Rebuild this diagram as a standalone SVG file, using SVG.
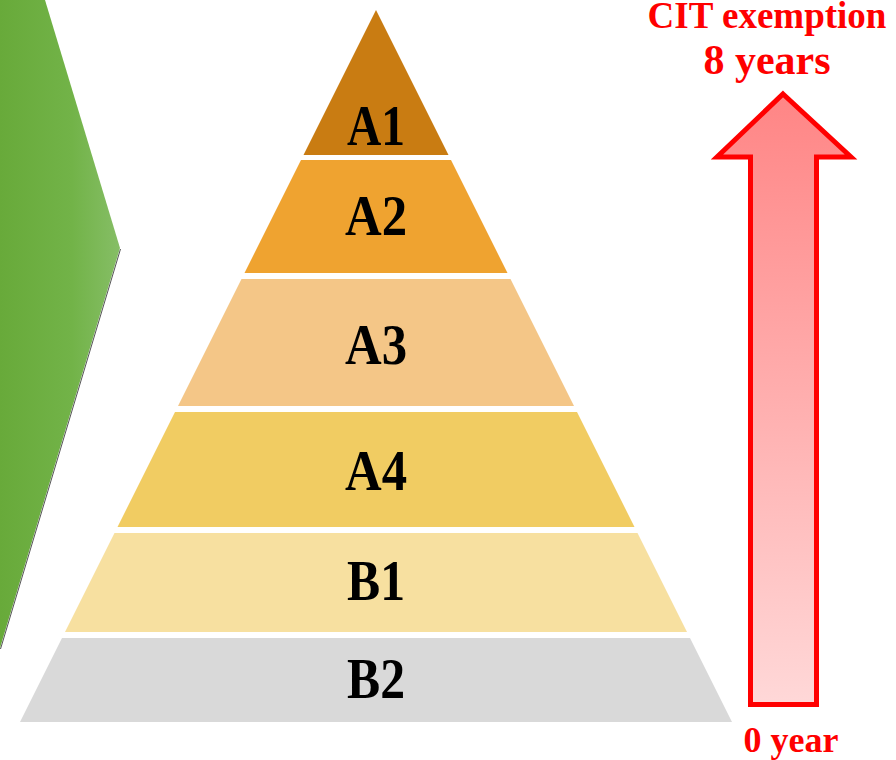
<svg xmlns="http://www.w3.org/2000/svg" width="896" height="760" viewBox="0 0 896 760">
<defs>
<linearGradient id="gGreen" x1="0" y1="0" x2="120" y2="0" gradientUnits="userSpaceOnUse">
<stop offset="0" stop-color="#68aa3a"/>
<stop offset="0.6" stop-color="#72b348"/>
<stop offset="1" stop-color="#86be66"/>
</linearGradient>
<linearGradient id="gArrow" x1="0" y1="0" x2="0" y2="1">
<stop offset="0" stop-color="#ff8585"/>
<stop offset="1" stop-color="#ffd8d8"/>
</linearGradient>
<style>
.lbl{font-family:"Liberation Serif","Times New Roman",serif;font-weight:bold;font-size:58px;fill:#000;text-anchor:middle}
.red{font-family:"Liberation Serif","Times New Roman",serif;font-weight:bold;fill:#ff0000;text-anchor:middle}
</style>
</defs>
<rect width="896" height="760" fill="#ffffff"/>
<g id="chevron">
<polygon points="0,0 45,0 120,248 0,648" fill="url(#gGreen)"/>
<line x1="120.5" y1="249" x2="0.5" y2="649" stroke="#555" stroke-width="1"/>
</g>
<g id="pyramid">
<g id="A1"><polygon points="376,10 448.5,155 303.5,155" fill="#c97c12"/><text class="lbl" x="376" y="145" textLength="58" lengthAdjust="spacingAndGlyphs">A1</text></g>
<g id="A2"><polygon points="301,160 451,160 507.5,273 244.5,273" fill="#efa330"/><text class="lbl" x="376" y="235" textLength="62" lengthAdjust="spacingAndGlyphs">A2</text></g>
<g id="A3"><polygon points="241.5,279 510.5,279 574,406 178,406" fill="#f4c687"/><text class="lbl" x="376" y="364" textLength="62" lengthAdjust="spacingAndGlyphs">A3</text></g>
<g id="A4"><polygon points="175,412 577,412 634.5,527 117.5,527" fill="#f1cc62"/><text class="lbl" x="376" y="490" textLength="62" lengthAdjust="spacingAndGlyphs">A4</text></g>
<g id="B1"><polygon points="114.5,533 637.5,533 687,632 65,632" fill="#f7e0a0"/><text class="lbl" x="376" y="600" textLength="58" lengthAdjust="spacingAndGlyphs">B1</text></g>
<g id="B2"><polygon points="62,638 690,638 732,722 20,722" fill="#d9d9d9"/><text class="lbl" x="376" y="698" textLength="58" lengthAdjust="spacingAndGlyphs">B2</text></g>
</g>
<g id="arrow">
<polygon points="783,94 851,157 816.5,157 816.5,704.5 750.5,704.5 750.5,157 717,157" fill="url(#gArrow)" stroke="#ff0000" stroke-width="5" stroke-linejoin="miter"/>
</g>
<g id="labels">
<text class="red" x="767" y="28" font-size="37">CIT exemption</text>
<text class="red" x="767" y="74" font-size="42">8 years</text>
<text class="red" x="791" y="752" font-size="36">0 year</text>
</g>
</svg>
